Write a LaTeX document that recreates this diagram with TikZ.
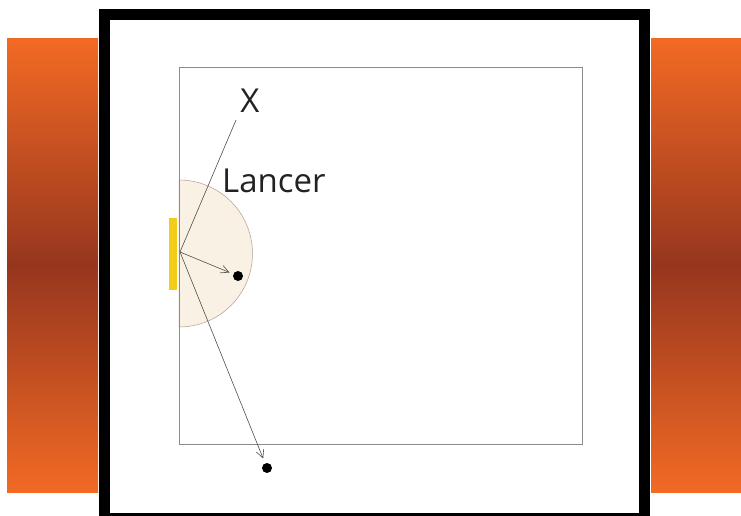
\documentclass[tikz,border=0pt]{standalone}
\usepackage{fontspec}
\setmainfont{Open Sans}
\usepackage{xcolor}
\usepackage{tikz}
\usetikzlibrary{arrows.meta,positioning}
\definecolor{panelorange}{HTML}{F26A24}
\definecolor{paneldark}{HTML}{96361E}
\definecolor{courtline}{HTML}{8C8A8C}
\definecolor{zonefill}{HTML}{F9F1E4}
\definecolor{zoneline}{HTML}{B59A92}
\definecolor{goalyellow}{HTML}{F2CE1A}
\definecolor{ink}{HTML}{222222}
\tikzset{
  panel/.style ={shading=axis,top color=panelorange,bottom color=panelorange,
                 middle color=paneldark,draw=none},
  frame/.style ={draw=black,line width=11pt},
  court/.style ={draw=courtline,line width=0.8pt},
  zone/.style  ={draw=zoneline,line width=0.5pt,fill=zonefill},
  ball/.style  ={circle,fill=black,inner sep=0pt,minimum size=10pt},
  throw/.style ={-{Straight Barb[length=2.8mm,width=2.8mm]},draw=ink!80,line width=0.6pt},
  label/.style ={font=\fontsize{33}{38}\selectfont,text=ink,inner sep=0pt}
}
\begin{document}
\begin{tikzpicture}[x=1pt,y=-1pt]
  \useasboundingbox (0,0) rectangle (741,516);
  % side panels
  \fill[panel] (7,39) rectangle (98,492);
  \fill[panel] (651,39) rectangle (741,492);
  % frame
  \draw[frame] (104.5,14.5) rectangle (644.5,518);
  % court
  \draw[court] (179,67) rectangle (582,444);
  \draw[zone] (179,180) arc[start angle=-90,end angle=90,radius=73.5] -- cycle;
  \fill[goalyellow] (169,218) rectangle (177,290);
  \draw[court] (179,67) -- (179,444);
  \coordinate (o) at (180,252);
  \coordinate (xtip) at (236,120);
  \node[label] (xlab) at (250,101) {X};
  \node[label,anchor=base west] (lancer) at (222,192) {Lancer};
  \node[ball] (d1) at (238,276) {};
  \node[ball] (d2) at (267,468) {};
  \draw[ink!80,line width=0.6pt] (o) -- (xtip);
  \draw[throw,shorten >=4pt] (o) -- (d1);
  \draw[throw,shorten >=5pt] (o) -- (d2);
\end{tikzpicture}
\end{document}
